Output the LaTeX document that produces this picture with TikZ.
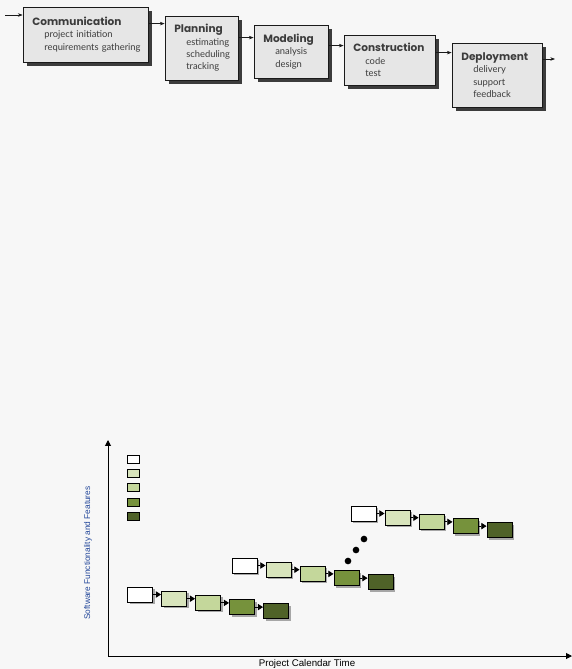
\documentclass[tikz,border=0pt]{standalone}
\usepackage{fontspec}
\usepackage{tikz}
\usepackage{xcolor}
\usetikzlibrary{arrows.meta,positioning,calc,shadows}
\newfontfamily\phasefont{Poppins}
\newfontfamily\itemfont{Lato}
\newfontfamily\plotfont{Liberation Sans}
\definecolor{bgpaper}  {HTML}{F7F7F7}
\definecolor{boxgray}  {HTML}{E6E6E6}
\definecolor{ink}      {HTML}{1A1A1A}
\definecolor{shade}    {HTML}{3C3C3C}
\definecolor{inc1}     {HTML}{FFFFFF}
\definecolor{inc2}     {HTML}{D8E4BC}
\definecolor{inc3}     {HTML}{C4D79B}
\definecolor{inc4}     {HTML}{76923C}
\definecolor{inc5}     {HTML}{4F6228}
\definecolor{axisblue} {HTML}{23479A}
\newcommand{\phasehead}[1]{{\phasefont\fontsize{9}{10.5}\selectfont\bfseries #1}}
\newcommand{\phaseitem}[1]{\hspace*{3.6mm}\mbox{#1}}

\begin{document}
\begin{tikzpicture}[x=0.03cm,y=-0.03cm,
    phase/.style={draw=ink,line width=0.7pt,fill=boxgray,align=left,
                  inner xsep=0.28cm,inner ysep=0pt,text=ink!85,
                  font=\itemfont\fontsize{8}{10.5}\selectfont,
                  drop shadow={shadow xshift=0.12cm,shadow yshift=-0.12cm,
                               fill=shade,opacity=1}},
    flow/.style={draw=ink,line width=0.5pt,-{Stealth[length=4pt,width=3pt]}},
    incbox/.style={draw=black,line width=0.8pt,minimum width=0.75cm,
                   minimum height=0.45cm,inner sep=0pt,
                   drop shadow={shadow xshift=0.06cm,shadow yshift=-0.06cm,
                                fill=gray!70,opacity=1}},
    legendbox/.style={draw=black,line width=0.8pt,minimum width=0.36cm,
                      minimum height=0.24cm,inner sep=0pt},
    incarrow/.style={line width=0.8pt,-{Triangle[length=4.5pt,width=5.5pt]}},
    axis/.style={line width=0.85pt,-{Triangle[length=5pt,width=5pt]}}]

  \useasboundingbox[fill=bgpaper] (0,0) rectangle (572,669);

  % process flow
  \node[phase,text width=3.19cm,minimum height=1.65cm] (comm) at (85.5,34.5) {%
    \phasehead{Communication}\\
    \phaseitem{project initiation}\\
    \phaseitem{requirements gathering}\\[4pt]};
  \node[phase,text width=1.63cm,minimum height=1.92cm] (plan) at (201.5,48) {%
    \phasehead{Planning}\\
    \phaseitem{estimating}\\
    \phaseitem{scheduling}\\
    \phaseitem{tracking}};
  \node[phase,text width=1.66cm,minimum height=1.59cm] (model) at (291,51.5) {%
    \phasehead{Modeling}\\
    \phaseitem{analysis}\\
    \phaseitem{design}};
  \node[phase,text width=2.17cm,minimum height=1.50cm] (constr) at (389.5,60) {%
    \phasehead{Construction}\\
    \phaseitem{code}\\
    \phaseitem{test}};
  \node[phase,text width=2.14cm,minimum height=1.92cm] (deploy) at (497,75) {%
    \phasehead{Deployment}\\
    \phaseitem{delivery}\\
    \phaseitem{support}\\
    \phaseitem{feedback}};

  \coordinate (flowin) at (5,15);
  \coordinate (flowout) at (555,59);
  \draw[flow] (flowin) -- (flowin -| comm.west);
  \draw[flow] ($(comm.east |- plan.north)+(0,8)$) -- ($(plan.north west)+(0,8)$);
  \draw[flow] ($(plan.east |- model.north)+(0,13)$) -- ($(model.north west)+(0,13)$);
  \draw[flow] ($(model.east |- constr.north)+(0,11)$) -- ($(constr.north west)+(0,11)$);
  \draw[flow] ($(constr.east |- deploy.north)+(0,10)$) -- ($(deploy.north west)+(0,10)$);
  \draw[flow] (deploy.east |- flowout) -- (flowout);

  % incremental model
  \coordinate (origin) at (108,656);
  \coordinate (ytop) at (108,440);
  \coordinate (xend) at (572,656);
  \draw[axis] (origin) -- (ytop);
  \draw[axis] (origin) -- (xend);
  \node[rotate=90,text=axisblue,font=\plotfont\fontsize{7.1}{8}\selectfont]
    (ylab) at (88,553) {Software Functionality and Features};
  \node[font=\plotfont\fontsize{8.3}{9}\selectfont] (xlab) at (307,663.5)
    {Project Calendar Time};

  \node[legendbox,fill=inc1] (key1) at (133,459) {};
  \node[legendbox,fill=inc2] (key2) at (133,473.5) {};
  \node[legendbox,fill=inc3] (key3) at (133,487.5) {};
  \node[legendbox,fill=inc4] (key4) at (133,502) {};
  \node[legendbox,fill=inc5] (key5) at (133,516.5) {};

  \foreach \row/\sx/\sy in {1/140/594.5,2/244.5/565.5,3/363.5/513.5} {
    \foreach \i in {1,...,5}
      \node[incbox,fill=inc\i] (r\row-\i) at ({\sx+34*(\i-1)},{\sy+4.2*(\i-1)}) {};
    \foreach \i [evaluate=\i as \j using int(\i+1)] in {1,...,4}
      \draw[incarrow] (r\row-\i.east) -- (r\row-\i.east -| r\row-\j.west);
  }

  \fill (348,561) circle (0.1cm);
  \fill (356,550) circle (0.1cm);
  \fill (364,539) circle (0.1cm);
\end{tikzpicture}
\end{document}
